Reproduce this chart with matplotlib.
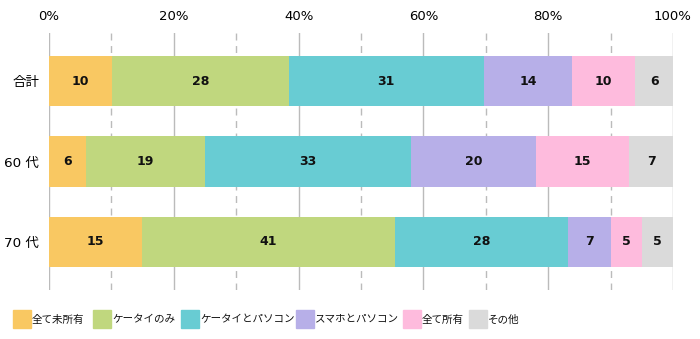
import matplotlib.pyplot as plt
from matplotlib.patches import Rectangle

plt.rcParams['font.family'] = ['DejaVu Sans', 'Noto Sans CJK JP']

groups = ['合計', '60 代', '70 代']
categories = ['全て未所有', 'ケータイのみ', 'ケータイとパソコン', 'スマホとパソコン', '全て所有', 'その他']
colors = ['#F9C862', '#C0D77E', '#68CCD3', '#B7AFE8', '#FEBBDD', '#DADADA']

# percent values per category, one entry per group
none_owned = [10, 6, 15]
phone_only = [28, 19, 41]
phone_pc = [31, 33, 28]
smart_pc = [14, 20, 7]
all_owned = [10, 15, 5]
other = [6, 7, 5]

series = [none_owned, phone_only, phone_pc, smart_pc, all_owned, other]
totals = [sum(s[i] for s in series) for i in range(len(groups))]

fig = plt.figure(figsize=(7, 3.39), dpi=100)
ax = fig.add_axes([0.07, 0.1445, 0.8914, 0.7582])

# grid: solid every 20%, dashed in between
for x in range(0, 101, 10):
    ls = '-' if x % 20 == 0 else (0, (5, 4))
    ax.axvline(x, color='#BBBBBB', lw=1.0, ls=ls, zorder=0)

left = [0.0] * len(groups)
for vals, col in zip(series, colors):
    widths = [v / t * 100 for v, t in zip(vals, totals)]
    ax.barh(range(len(groups)), widths, left=left, height=0.625,
            color=col, zorder=2)
    for i, (w, v) in enumerate(zip(widths, vals)):
        ax.text(left[i] + w / 2, i, str(v), ha='center', va='center',
                fontsize=9, fontweight='bold', color='#111111', zorder=3)
    left = [l + w for l, w in zip(left, widths)]

ax.set_xlim(0, 100)
ax.set_ylim(2.6, -0.6)
ax.set_xticks(range(0, 101, 20))
ax.set_xticklabels([f'{x}%' for x in range(0, 101, 20)], fontsize=9.5)
ax.xaxis.tick_top()
ax.set_yticks(range(len(groups)))
ax.set_yticklabels(groups, fontsize=9.7)
ax.tick_params(length=0)
ax.tick_params(axis='y', pad=7)
ax.tick_params(axis='x', pad=7)
for s in ax.spines.values():
    s.set_visible(False)

# legend row along the bottom
legend_x = [13, 93, 181, 296, 403, 469]
for x, col, lab in zip(legend_x, colors, categories):
    fig.patches.append(Rectangle((x / 700, 11 / 339), 18 / 700, 18 / 339,
                                 transform=fig.transFigure, color=col))
    fig.text((x + 19) / 700, 19.5 / 339, lab, fontsize=7.6, va='center',
             ha='left', family='Noto Sans CJK JP', color='#111111')

fig.savefig('out.png', dpi=100)
